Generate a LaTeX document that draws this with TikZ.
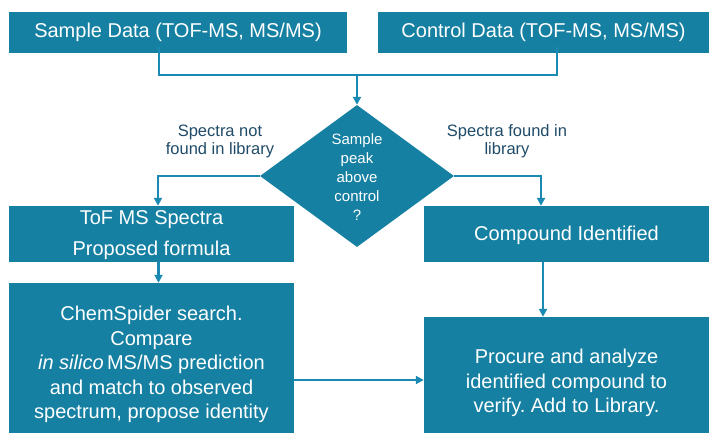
\documentclass[tikz,border=0pt]{standalone}
\usepackage{fontspec}
\setmainfont{Liberation Sans}
\frenchspacing
\usetikzlibrary{shapes.geometric,arrows.meta,calc}
\definecolor{boxfill}{HTML}{1580A2}
\definecolor{linecol}{HTML}{1A8AB2}
\definecolor{labcol}{HTML}{1F4B68}
\tikzset{
  boxnode/.style={draw=none,fill=boxfill,rectangle,inner sep=0pt,text=white,align=center},
  bigtext/.style={font=\fontsize{20}{24}\selectfont},
  conn/.style={draw=linecol,line width=2.5pt},
  arr/.style={conn,-{Triangle[length=8pt,width=8pt]}},
  lab/.style={text=labcol,align=center,font=\fontsize{16.5}{18}\selectfont},
}
\begin{document}
\begin{tikzpicture}[x=1pt,y=-1pt]
\useasboundingbox (0,0) rectangle (709,433);
% boxes
\node[boxnode,minimum width=338pt,minimum height=41pt] (sample) at (178,32.5) {};
\node[boxnode,minimum width=331pt,minimum height=41pt] (control) at (543.5,32.5) {};
\node[boxnode,minimum width=285pt,minimum height=56pt] (tof) at (151.5,234) {};
\node[boxnode,minimum width=285pt,minimum height=56pt] (comp) at (566.5,234) {};
\node[boxnode,minimum width=285pt,minimum height=150pt] (chem) at (151.5,358) {};
\node[boxnode,minimum width=285pt,minimum height=116pt] (proc) at (566.5,375) {};
\node[diamond,fill=boxfill,draw=none,inner sep=0pt,minimum width=194pt,minimum height=142pt] (dia) at (357,176) {};
% texts
\node[text=white,bigtext] (tsample) at (sample) {Sample Data (TOF-MS, MS/MS)};
\node[text=white,bigtext] (tcontrol) at (control) {Control Data (TOF-MS, MS/MS)};
\node[text=white,align=center,font=\fontsize{20}{31}\selectfont] (ttof) at (151.5,235.5) {ToF MS Spectra\\Proposed formula};
\node[text=white,bigtext] (tcomp) at (566.5,235) {Compound Identified};
\node[text=white,align=center,font=\fontsize{20}{24.5}\selectfont] (tchem) at (151.5,364.5) {ChemSpider search.\\Compare\\\textit{in silico}\,MS/MS prediction\\and match to observed\\spectrum, propose identity};
\node[text=white,align=center,font=\fontsize{20}{24.5}\selectfont] (tproc) at (566.5,383) {Procure and analyze\\identified compound to\\verify. Add to Library.};
\node[text=white,align=center,font=\fontsize{15}{19}\selectfont] (tdia) at (357,177) {Sample\\peak\\above\\control\\?};
\node[lab] (lleft) at (220,141) {Spectra not\\found in library};
\node[lab] (lright) at (507,141) {Spectra found in\\library};
% connectors
\coordinate (merge) at (357,75);
\draw[conn] ([xshift=-19pt,yshift=6pt]sample.south) |- (merge);
\draw[conn] ([xshift=13.5pt,yshift=6pt]control.south) |- (merge);
\draw[arr] (merge) -- (dia.north);
\draw[arr] (dia.west) -| ([xshift=6.5pt]tof.north);
\draw[arr] (dia.east) -| ([xshift=-25.5pt]comp.north);
\draw[arr] ([xshift=7pt]tof.south) -- ([xshift=7pt]chem.north);
\draw[arr] ([xshift=-23.5pt]comp.south) -- ([xshift=-23.5pt]proc.north);
\draw[arr] ([yshift=-22pt]chem.east) -- ([yshift=-22pt]chem.east -| proc.west);
\end{tikzpicture}
\end{document}
